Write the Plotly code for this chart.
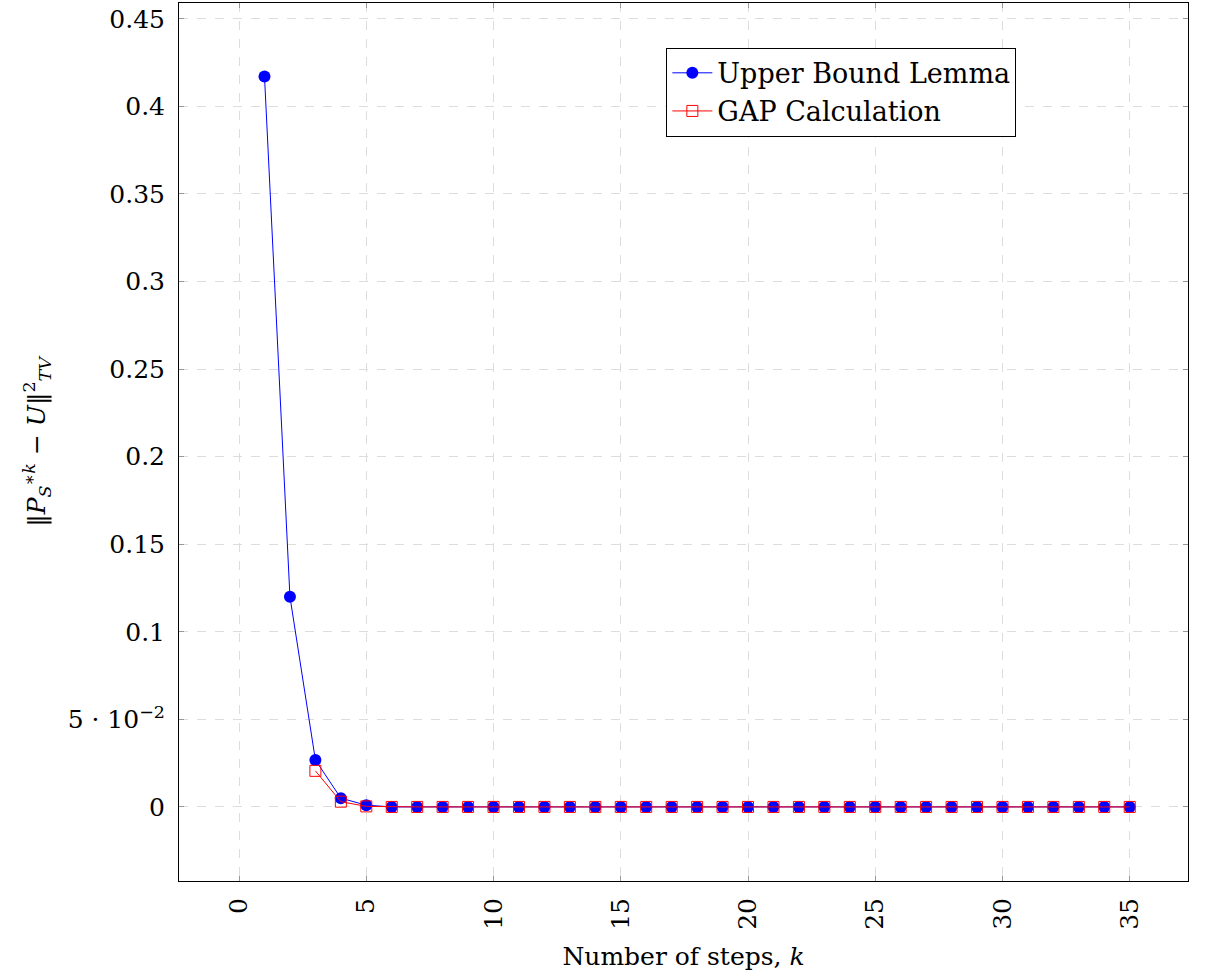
import plotly.graph_objects as go

steps_upper = list(range(1, 36))
upper_bound = [0.417, 0.120, 0.0268, 0.0050, 0.0010] + [0.0] * 30

steps_gap = list(range(3, 36))
gap_calc = [0.0206, 0.0030, 0.0003] + [0.0] * 30

x_ticks = [0, 5, 10, 15, 20, 25, 30, 35]
y_tickvals = [0, 0.05, 0.1, 0.15, 0.2, 0.25, 0.3, 0.35, 0.4, 0.45]
y_ticktext = ["0", "5 · 10<sup>−2</sup>", "0.1", "0.15", "0.2", "0.25", "0.3", "0.35", "0.4", "0.45"]

FONT = "DejaVu Serif"
FS = 25

fig = go.Figure()
fig.add_trace(go.Scatter(
    x=steps_upper, y=upper_bound, mode="lines+markers",
    name="Upper Bound Lemma",
    line=dict(color="blue", width=1),
    marker=dict(symbol="circle", size=12, color="blue"),
))
fig.add_trace(go.Scatter(
    x=steps_gap, y=gap_calc, mode="lines+markers",
    name="GAP Calculation",
    line=dict(color="red", width=1),
    marker=dict(symbol="square-open", size=11, color="red", line=dict(width=1)),
))

axis_common = dict(
    showline=True, linecolor="black", linewidth=1, mirror="ticks",
    ticks="inside", tickcolor="#999999", ticklen=5, tickwidth=1,
    showgrid=True, gridcolor="#dddddd", griddash="dash", gridwidth=1,
    zeroline=False,
    tickfont=dict(family=FONT, size=FS, color="black"),
    title_font=dict(family=FONT, size=FS, color="black"),
)

fig.update_layout(
    width=1221, height=978,
    margin=dict(l=179, r=33, t=3, b=97, autoexpand=False),
    paper_bgcolor="white", plot_bgcolor="white",
    font=dict(family=FONT, size=FS, color="black"),
    xaxis=dict(range=[-2.36, 37.29], tickvals=x_ticks, tickangle=-90,
               ticklabelstandoff=6,
               title=dict(text="Number of steps, <i>k</i>", standoff=18), **axis_common),
    yaxis=dict(range=[-0.0423, 0.459], tickvals=y_tickvals, ticktext=y_ticktext,
               ticklabelstandoff=8,
               title=dict(text="‖<i>P</i><sub><i>S</i></sub><sup>∗<i>k</i></sup> − <i>U</i>‖<sup>2</sup><sub><i>TV</i></sub>", standoff=14),
               **axis_common),
    legend=dict(x=0.483, y=0.949, xanchor="left", yanchor="top",
                bordercolor="black", borderwidth=1, bgcolor="white",
                font=dict(family=FONT, size=27, color="black"),
                itemwidth=40, tracegroupgap=0),
    showlegend=True,
)

fig.write_html("out.html", config={"displayModeBar": False},
               post_script="document.body.style.margin='0';document.body.style.overflow='hidden';")
